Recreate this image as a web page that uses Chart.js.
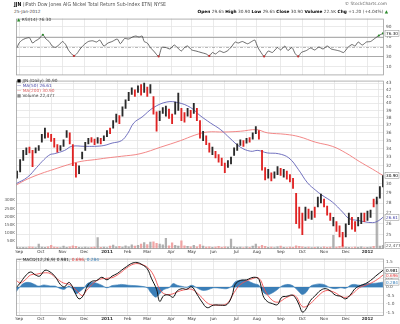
<!DOCTYPE html>
<html>
<head>
<meta charset="utf-8">
<script src="https://cdn.jsdelivr.net/npm/chart.js@4.4.1/dist/chart.umd.min.js"></script>
<style>
  body { margin: 0; background: #fff; }
  #wrap { position: relative; width: 400px; height: 324px; overflow: hidden; background: #fff; font-family: "DejaVu Sans", Verdana, sans-serif; }
  canvas { position: absolute; left: 0; }
  .t { position: absolute; white-space: nowrap; font-size: 4.3px; line-height: 1; color: #444; }
  .t b { color: #000; }
</style>
</head>
<body>
<div id="wrap">
  <canvas id="hdr" width="400" height="9" style="top:0px"></canvas>
  <canvas id="rsi" width="400" height="66" style="top:14px"></canvas>
  <canvas id="main" width="400" height="184" style="top:76px"></canvas>
  <canvas id="macd" width="400" height="70" style="top:254px"></canvas>

  <div class="t" style="left:14px;top:10px">25-Jan-2012</div>
  <div class="t" style="right:13px;top:2px;color:#666">&copy; StockCharts.com</div>
  <div class="t" style="right:12px;top:10px"><b>Open</b> 29.65 <b>High</b> 30.90 <b>Low</b> 29.65 <b>Close</b> 30.90 <b>Volume</b> 22.5K <b>Chg</b> +1.20 (+4.04%) <span style="color:#2a8a2a">&#9650;</span></div>
  <div class="t" style="left:17px;top:18px"><span style="color:#2a8a2a">&#9650;</span> RSI(14) 76.30</div>

  <div class="t" style="left:17px;top:79px"><span style="color:#000">&#9632;</span> JJN (Daily) 30.90</div>
  <div class="t" style="left:17px;top:84px;color:#4848a8">&mdash; MA(50) 26.61</div>
  <div class="t" style="left:17px;top:89px;color:#e06060">&mdash; MA(200) 30.90</div>
  <div class="t" style="left:17px;top:94px"><span style="color:#888">&#9632;</span> Volume 22,477</div>

  <div class="t" style="left:17px;top:258px;color:#222">&mdash; MACD(12,26,9) 0.981, <span style="color:#e04040">0.696</span>, <span style="color:#3b80b8">0.284</span></div>
</div>

<script>
// --- Données ---
// axe des x : jours de bourse depuis le 1er sept. 2010
const monthStarts = [0, 21, 42, 63, 85, 105, 124, 147, 167, 188, 210, 230, 253, 274, 295, 316, 337];
const monthLabels = ['Sep', 'Oct', 'Nov', 'Dec', '2011', 'Feb', 'Mar', 'Apr', 'May', 'Jun', 'Jul', 'Aug', 'Sep', 'Oct', 'Nov', 'Dec', '2012'];
const X_MIN = -3, X_MAX = 353;

// barres de prix, une tous les 3 jours de bourse à partir du jour -2
const BAR_FIRST = -2, BAR_STEP = 3;
const lows = [30.6,31.3,32.6,33.3,33.5,31.9,33.5,33.8,34.8,35.3, 35.4,34.9,34.2,33.6,33.8,34.3,35.4,34.6,32.0,30.7,
  31.1,32.8,33.8,34.6,34.8,34.5,34.7,34.6,35.0,35.5, 35.9,36.6,37.4,37.2,38.2,39.3,40.4,41.3,41.0,41.6,
  41.2,41.6,41.0,41.5,38.5,36.2,37.6,38.6,38.2,37.9, 37.2,38.5,39.0,37.6,37.4,38.2,38.0,38.6,37.6,35.3,
  35.0,34.5,33.6,33.3,32.9,32.4,32.0,31.2,31.8,32.2, 33.2,33.8,34.4,34.3,34.7,34.8,35.2,35.9,35.2,31.5,
  30.4,30.6,30.3,30.6,31.0,30.9,30.7,30.5,30.2,29.5, 26.0,25.6,25.0,26.3,26.5,26.4,26.6,27.6,28.0,27.6,
  26.8,26.3,25.8,25.3,24.8,24.0,24.8,25.9,25.5,25.3, 25.8,26.0,26.2,26.3,26.6,27.6,27.9,28.5,29.65];
const highs = [31.4,32.7,33.8,34.1,34.2,33.8,34.1,34.4,35.8,36.6, 36.0,35.8,35.3,34.5,34.4,35.1,36.3,36.0,34.5,32.3,
  32.0,33.6,34.8,35.3,35.4,35.2,35.4,35.3,35.6,36.3, 36.6,37.6,38.5,38.3,39.5,40.5,41.6,42.3,42.0,42.6,
  42.8,43.0,42.4,42.8,41.0,38.8,38.9,39.4,39.6,39.2, 38.5,40.2,41.5,39.3,38.7,39.3,39.0,40.0,39.3,37.6,
  36.2,35.6,34.7,34.2,33.7,33.3,32.9,32.3,32.6,33.0, 34.1,34.6,35.1,35.0,35.3,35.4,36.0,36.8,36.3,33.8,
  31.8,31.6,31.2,31.3,31.9,31.7,31.6,31.4,31.0,30.6, 29.0,27.6,27.0,27.6,27.4,27.2,27.6,28.6,28.9,28.4,
  27.7,27.0,26.6,26.2,25.8,25.2,26.0,27.0,26.6,26.2, 26.6,27.0,27.0,27.2,27.3,28.4,28.6,29.7,30.9];
const upDay = [1,1,1,1,0,0,1,1,1,1, 0,0,0,0,1,1,1,0,0,0, 1,1,1,1,0,0,1,0,1,1, 0,1,1,0,1,1,1,1,0,1,
  0,1,0,1,0,0,1,1,1,0, 0,1,1,0,0,1,0,1,0,0, 1,0,0,1,0,0,0,0,1,1, 1,1,1,0,1,0,1,1,0,0,
  0,1,0,1,1,0,1,0,0,0, 0,0,0,1,0,1,0,1,1,0, 0,0,1,0,0,0,1,1,0,0, 1,1,0,1,1,0,1,1,1];
const volumeK = [12,8,10,9,14,12,8,30,12,10, 14,22,12,10,8,18,10,14,20,16, 10,9,12,8,10,12,70,10,12,9,
  18,24,14,16,12,20,14,26,18,22, 30,40,28,42,45,35,30,25,66,20, 38,22,18,50,20,16,14,22,14,28,
  18,12,14,10,12,16,10,14,12,62, 14,10,12,9,14,10,18,30,14,22, 16,10,12,8,14,18,10,8,12,10,
  20,16,14,10,12,8,10,12,9,14, 10,12,85,12,16,20,12,10,8,12, 10,14,8,10,12,16,296,18,22.477];

const ma50Days = [-3,8,17,24,30,34,44,51,63,73,82,90,99,105,111,119,130,143,154,166,175,185,195,204,214,224,231,240,251,261,270,279,287,293,303,313,319,328,342,348,352];
const ma50Vals = [30.0,30.7,31.8,32.7,33.3,33.4,33.8,34.3,34.3,34.3,34.4,34.7,35.0,35.9,37.3,38.1,39.4,40.2,40.1,39.4,38.3,37.3,36.4,35.3,34.2,33.7,33.8,33.5,33.4,32.9,31.6,30.1,29.3,28.8,28.1,27.1,26.5,26.3,26.1,26.3,26.61];
const ma200Days = [-3,8,21,34,47,60,73,85,99,117,137,156,170,182,198,214,230,240,258,271,287,303,316,329,342,352];
const ma200Vals = [29.85,30.5,31.1,31.6,32.1,32.5,32.7,32.9,33.1,33.4,34.2,35.0,35.7,36.1,36.1,36.2,36.4,36.0,35.8,35.5,34.8,34.3,33.5,32.5,31.6,30.9];
const priceTicks = [24,25,26,27,28,29,30,31,32,33,34,35,36,37,38,39,40,41,42,43];
const volumeTicks = [50,100,150,200,250,300];

const rsiDays = [-2,0,3,6,10,13,16,19,23,26,29,32,35,39,42,45,48,53,56,59,63,67,71,75,78,82,86,90,95,98,102,106,110,113,116,119,121,124,127,131,
  135,138,142,146,150,153,157,160,163,167,171,176,181,184,187,190,194,198,202,206,209,212,216,221,225,228,231,235,237,241,
  245,250,253,257,260,264,267,270,273,278,282,286,290,294,298,302,306,310,314,318,322,325,328,332,336,340,344,348,352];
const rsiVals = [48,57,63,66,67.6,57,61.5,65,73.6,65,60,51,48,54,60,54,42,31,36,45,54,60,61.5,59,63,51,57,60,65,55.5,66,65,69.4,71,69,71,60,57,48,39,
  30,48,48,45,53,48,41,48,51,43,41,38,35,31,38,35,41,38,42,51,59,57,60,55.5,60,63,48,35,30,41,
  38,48,43,51,42,48,36,30,38,42,47,43,49,45,51,45,43,41,38,48,54,51,59,53,59,60,66,72,76.3];
const rsiTicks = [10,30,50,70,90];

const macdDays = [-3,1,6,11,16,20,25,30,35,40,44,48,51,54,58,62,66,70,75,80,85,90,95,99,104,109,114,119,124,128,133,136,140,145,149,153,158,162,167,172,
  177,182,188,195,201,206,209,214,220,227,232,236,240,245,250,254,259,264,267,271,274,277,282,287,291,296,301,306,311,316,321,325,330,335,340,345,352];
const macdVals = [-0.05,0.23,0.64,0.88,0.70,0.64,0.98,0.88,0.60,0.14,0.01,0.27,0.08,-0.33,-0.70,-0.51,0.04,0.32,0.38,0.57,0.42,0.64,0.79,0.98,1.20,1.39,1.44,1.31,1.07,0.51,-0.14,-0.85,-0.51,-0.48,-0.61,-0.23,-0.10,-0.14,0.01,-0.42,
  -0.89,-1.22,-1.07,-1.07,-1.04,-0.51,0.14,0.38,0.42,0.57,0.45,-0.51,-0.85,-0.98,-1.04,-0.61,-0.55,-0.48,-0.61,-1.07,-1.48,-1.35,-0.79,-0.48,-0.23,-0.10,-0.23,-0.48,-0.55,-0.70,-0.42,-0.10,0.08,0.19,0.38,0.64,0.981];
const signalDays = [-3,1,6,11,17,24,30,36,43,49,56,61,65,72,78,85,91,98,104,111,117,124,130,136,141,148,153,159,167,175,183,191,201,208,214,224,232,238,245,251,259,267,274,280,288,296,304,314,321,329,337,345,352];
const signalVals = [0.42,0.23,0.42,0.70,0.75,0.83,0.79,0.51,0.23,0.14,-0.23,-0.51,-0.23,0.23,0.45,0.51,0.57,0.83,1.12,1.35,1.35,1.16,0.70,-0.14,-0.42,-0.42,-0.29,-0.18,-0.14,-0.51,-0.98,-1.07,-0.98,-0.33,0.14,0.45,0.51,-0.23,-0.79,-0.89,-0.61,-0.51,-1.16,-1.07,-0.61,-0.23,-0.29,-0.61,-0.48,-0.05,0.14,0.38,0.696];
const histDays = [-3,0,4,9,14,19,24,30,35,39,44,48,52,55,59,63,66,70,75,80,85,90,95,99,106,111,117,124,127,132,136,140,145,149,153,158,162,167,172,177,
  182,188,195,201,206,209,214,220,227,232,236,240,245,250,254,259,264,267,271,274,278,282,287,291,296,301,306,311,316,321,325,330,335,340,345,352];
const histVals = [-0.30,-0.05,0.20,0.27,0.18,0.05,0.12,0.06,0.05,-0.08,-0.14,0.05,-0.15,-0.40,-0.25,-0.05,0.20,0.28,0.22,0.10,-0.05,0.08,0.12,0.15,0.10,0.08,0.05,-0.05,-0.30,-0.60,-0.40,-0.15,-0.05,0.20,0.10,0.03,-0.02,0.10,-0.05,-0.20,
  -0.18,-0.05,-0.08,-0.10,0.05,0.30,0.40,0.38,0.20,0.10,-0.30,-0.45,-0.35,-0.15,0.05,0.15,0.10,-0.05,-0.30,-0.45,-0.30,0.05,0.15,0.18,0.12,-0.05,-0.10,-0.05,-0.08,0.12,0.15,0.10,0.18,0.20,0.22,0.284];
const macdTicks = [-1.5,-1.0,-0.5,0.0,0.5,1.0,1.5];

// --- Mise en forme ---
const FONT = '"DejaVu Sans", Verdana, sans-serif';
const GRID = '#e4e4e4';
const pts = (xs, ys) => xs.map((x, i) => ({ x: x, y: ys[i] }));
const barX = i => BAR_FIRST + i * BAR_STEP;

// titre en haut à gauche, ajusté sur la largeur de l'original (x 14 -> 166)
(function drawTitle() {
  const c = document.getElementById('hdr').getContext('2d');
  const bold = 'bold 5.4px ' + FONT, normal = '5.4px ' + FONT;
  const rest = ' (iPath Dow Jones AIG Nickel Total Return Sub-Index ETN) NYSE';
  c.font = bold;
  const w1 = c.measureText('JJN').width;
  c.font = normal;
  const w2 = c.measureText(rest).width;
  const k = 152 / (w1 + w2);
  c.save();
  c.translate(14, 4.5);
  c.scale(k, 1);
  c.textBaseline = 'middle';
  c.font = bold;
  c.fillStyle = '#000';
  c.fillText('JJN', 0, 0);
  c.font = normal;
  c.fillStyle = '#555';
  c.fillText(rest, w1, 0);
  c.restore();
})();

// cadre autour de la zone de tracé
const framePlugin = {
  id: 'frame',
  afterDraw(chart) {
    const a = chart.chartArea, c = chart.ctx;
    c.save();
    c.strokeStyle = '#a0a0a0';
    c.lineWidth = 0.8;
    c.strokeRect(a.left + 0.5, a.top + 0.5, a.right - a.left - 1, a.bottom - a.top - 1);
    c.restore();
  }
};

// lignes de référence (70/50/30, zéro du MACD)
const levelPlugin = {
  id: 'levels',
  beforeDatasetsDraw(chart, args, opts) {
    const a = chart.chartArea, c = chart.ctx;
    (opts.lines || []).forEach(l => {
      const y = Math.round(chart.scales[l.axis].getPixelForValue(l.value)) + 0.5;
      c.save();
      c.strokeStyle = l.color;
      c.lineWidth = l.width;
      c.setLineDash(l.dash || []);
      c.beginPath();
      c.moveTo(a.left, y);
      c.lineTo(a.right, y);
      c.stroke();
      c.restore();
    });
  }
};

// étiquettes de dernière valeur à droite
const tagPlugin = {
  id: 'tags',
  afterDraw(chart, args, opts) {
    const a = chart.chartArea, c = chart.ctx;
    (opts.items || []).forEach(t => {
      const y = chart.scales[t.axis].getPixelForValue(t.value);
      c.save();
      c.font = '4.2px ' + FONT;
      const w = c.measureText(t.text).width + 2;
      c.fillStyle = '#fff';
      c.strokeStyle = '#888';
      c.lineWidth = 0.5;
      c.fillRect(a.right + 1, y - 3, w, 6);
      c.strokeRect(a.right + 1, y - 3, w, 6);
      c.fillStyle = t.color;
      c.textBaseline = 'middle';
      c.fillText(t.text, a.right + 2, y + 0.3);
      c.restore();
    });
  }
};

function xScale(showLabels, axisHeight) {
  return {
    type: 'linear',
    min: X_MIN,
    max: X_MAX,
    offset: false,
    afterBuildTicks: s => { s.ticks = monthStarts.map(v => ({ value: v })); },
    afterFit: s => { s.height = axisHeight; },
    ticks: {
      display: showLabels,
      autoSkip: false,
      maxRotation: 0,
      padding: 0.5,
      color: '#333',
      font: c => ({ family: FONT, size: 4.2, weight: monthLabels[c.index] && monthLabels[c.index].length === 4 ? 'bold' : 'normal' }),
      callback: (v, i) => monthLabels[i]
    },
    grid: { color: GRID, lineWidth: 0.8, drawTicks: false },
    border: { display: false }
  };
}

function rightScale(extra) {
  return Object.assign({
    position: 'right',
    afterFit: s => { s.width = 16; },
    grid: { color: GRID, lineWidth: 0.8, drawTicks: false },
    border: { display: false },
    ticks: { color: '#555', padding: 2, font: { family: FONT, size: 4.3 } }
  }, extra);
}

const common = {
  responsive: false,
  animation: false,
  events: [],
  plugins: { legend: { display: false }, tooltip: { enabled: false } }
};

// --- RSI ---
new Chart(document.getElementById('rsi'), {
  type: 'line',
  data: {
    datasets: [{
      data: pts(rsiDays, rsiVals),
      borderColor: '#444',
      borderWidth: 0.8,
      tension: 0.2,
      pointRadius: c => (c.raw && (c.raw.y >= 72 || c.raw.y <= 31)) ? 1.1 : 0,
      pointBackgroundColor: c => (c.raw && c.raw.y >= 50) ? '#2a8a2a' : '#c03030',
      pointBorderWidth: 0
    }]
  },
  options: Object.assign({}, common, {
    layout: { padding: { left: 16, top: 2, bottom: 2, right: 0 } },
    scales: {
      x: xScale(false, 0),
      y: rightScale({
        min: -8, max: 106,
        afterBuildTicks: s => { s.ticks = rsiTicks.map(v => ({ value: v })); }
      })
    },
    plugins: Object.assign({}, common.plugins, {
      levels: { lines: [
        { axis: 'y', value: 70, color: '#9a9a9a', width: 0.8 },
        { axis: 'y', value: 30, color: '#9a9a9a', width: 0.8 },
        { axis: 'y', value: 50, color: '#9a9a9a', width: 0.7, dash: [3, 1.5, 1, 1.5] }
      ] },
      tags: { items: [{ axis: 'y', value: 76.3, text: '76.30', color: '#222' }] }
    })
  }),
  plugins: [levelPlugin, framePlugin, tagPlugin]
});

// --- Prix + volume ---
new Chart(document.getElementById('main'), {
  type: 'bar',
  data: {
    datasets: [
      {
        type: 'bar',
        yAxisID: 'v',
        data: volumeK.map((v, i) => ({ x: barX(i), y: v })),
        backgroundColor: volumeK.map((v, i) => upDay[i] ? 'rgba(150,150,150,0.75)' : 'rgba(238,150,150,0.85)'),
        barThickness: 1.6,
        grouped: false,
        order: 5
      },
      {
        type: 'line',
        yAxisID: 'y',
        data: pts(ma200Days, ma200Vals),
        borderColor: '#f07a7a',
        borderWidth: 0.9,
        tension: 0.4,
        pointRadius: 0,
        order: 4
      },
      {
        type: 'line',
        yAxisID: 'y',
        data: pts(ma50Days, ma50Vals),
        borderColor: '#6262b8',
        borderWidth: 0.9,
        tension: 0.4,
        pointRadius: 0,
        order: 3
      },
      {
        type: 'bar',
        yAxisID: 'y',
        data: lows.map((lo, i) => ({ x: barX(i), y: [lo, highs[i]] })),
        backgroundColor: upDay.map(u => u ? '#2a2a2a' : '#e02424'),
        barThickness: 1.2,
        grouped: false,
        order: 1
      }
    ]
  },
  options: Object.assign({}, common, {
    layout: { padding: { left: 0, top: 2, bottom: 2, right: 0 } },
    scales: {
      x: xScale(true, 9),
      y: rightScale({
        type: 'logarithmic',
        min: 23.75, max: 43.4,
        afterBuildTicks: s => { s.ticks = priceTicks.map(v => ({ value: v })); },
        ticks: { color: '#555', padding: 2, font: { family: FONT, size: 4.3 }, callback: v => String(v) }
      }),
      v: {
        position: 'left',
        min: 0, max: 1040,
        afterFit: s => { s.width = 16; },
        afterBuildTicks: s => { s.ticks = volumeTicks.map(v => ({ value: v })); },
        grid: { display: false, drawTicks: false },
        border: { display: false },
        ticks: { color: '#555', padding: 1, font: { family: FONT, size: 4.1 }, callback: v => v + 'K' }
      }
    },
    plugins: Object.assign({}, common.plugins, {
      tags: { items: [
        { axis: 'v', value: 22.477, text: '22,477', color: '#555' },
        { axis: 'y', value: 26.61, text: '26.61', color: '#4848a8' },
        { axis: 'y', value: 30.9, text: '30.90', color: '#000' }
      ] }
    })
  }),
  plugins: [framePlugin, tagPlugin]
});

// --- MACD ---
new Chart(document.getElementById('macd'), {
  type: 'line',
  data: {
    datasets: [
      {
        data: pts(histDays, histVals),
        borderColor: '#3b80b8',
        backgroundColor: 'rgba(50,120,180,0.95)',
        borderWidth: 0.6,
        fill: 'origin',
        tension: 0.35,
        pointRadius: 0,
        order: 3
      },
      {
        data: pts(signalDays, signalVals),
        borderColor: '#f05050',
        borderWidth: 0.9,
        tension: 0.4,
        pointRadius: 0,
        order: 2
      },
      {
        data: pts(macdDays, macdVals),
        borderColor: '#111',
        borderWidth: 1,
        tension: 0.4,
        pointRadius: 0,
        order: 1
      }
    ]
  },
  options: Object.assign({}, common, {
    layout: { padding: { left: 16, top: 2, bottom: 0, right: 0 } },
    scales: {
      x: xScale(true, 8),
      y: rightScale({
        min: -1.71, max: 1.67,
        afterBuildTicks: s => { s.ticks = macdTicks.map(v => ({ value: v })); },
        ticks: { color: '#555', padding: 2, font: { family: FONT, size: 4.3 }, callback: v => v.toFixed(1) }
      })
    },
    plugins: Object.assign({}, common.plugins, {
      levels: { lines: [{ axis: 'y', value: 0, color: '#9cc3e0', width: 0.8 }] },
      tags: { items: [
        { axis: 'y', value: 0.284, text: '0.284', color: '#3b80b8' },
        { axis: 'y', value: 0.696, text: '0.696', color: '#e04040' },
        { axis: 'y', value: 0.981, text: '0.981', color: '#000' }
      ] }
    })
  }),
  plugins: [levelPlugin, framePlugin, tagPlugin]
});
</script>
</body>
</html>
